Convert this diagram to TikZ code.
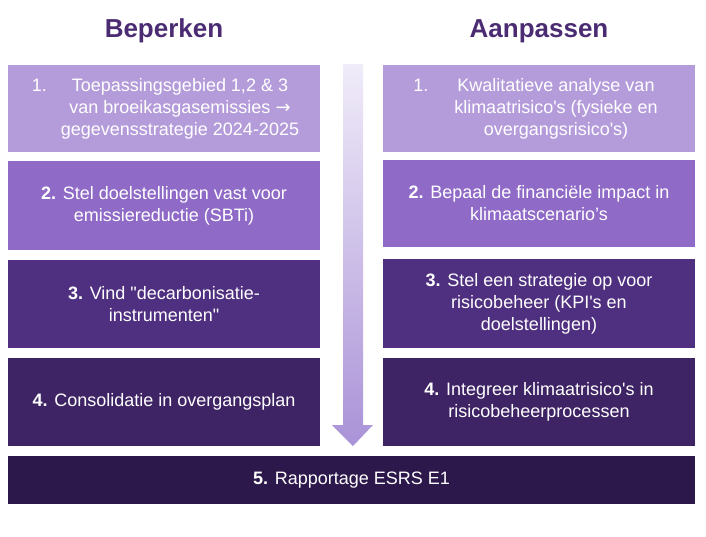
\documentclass[tikz,border=0pt]{standalone}
\usepackage{fontspec}
\setmainfont{Liberation Sans}
\newfontfamily\pijlfont{DejaVu Sans}
\usetikzlibrary{positioning}

\definecolor{kop}{RGB}{75,44,115}
\definecolor{lila1}{RGB}{180,156,218}
\definecolor{lila2}{RGB}{143,106,199}
\definecolor{lila3}{RGB}{79,47,127}
\definecolor{lila4}{RGB}{62,36,101}
\definecolor{lila5}{RGB}{44,24,74}
\definecolor{pijltop}{RGB}{240,236,249}
\definecolor{pijlbodem}{RGB}{170,146,215}

\begin{document}
\begin{tikzpicture}[x=1pt,y=-1pt,
    kopje/.style={text=kop,font=\fontsize{26}{30}\selectfont\bfseries,anchor=base},
    blok/.style={text=white,font=\fontsize{18}{22}\selectfont,align=center,
      inner sep=0pt,minimum width=312pt},
    tekst/.style={text=white,font=\fontsize{18}{22}\selectfont,align=center,inner sep=0pt}]
      \useasboundingbox (0,0) rectangle (706,536);

      % kopjes
      \node[kopje] (beperken) at (164,37) {Beperken};
      \node[kopje] (aanpassen) at (539,37) {Aanpassen};

      % pijl in het midden
      \shade[top color=pijltop,bottom color=pijlbodem]
        (343,64) -- (363,64) -- (363,425) -- (373,425) -- (353,446)
        -- (332,425) -- (343,425) -- cycle;

      % linkerkolom
      \node[blok,fill=lila1,minimum height=87pt] (l1) at (164,108.5) {};
      \node[tekst] (l1t) at (180,108.5) {\llap{1.\hspace{25pt}}Toepassingsgebied 1,2 \& 3\\
        van broeikasgasemissies {\pijlfont →}\\gegevensstrategie 2024-2025};
      \node[blok,fill=lila2,minimum height=89pt] (l2) at (164,205.5)
        {\textbf{2.} Stel doelstellingen vast voor\\emissiereductie (SBTi)};
      \node[blok,fill=lila3,minimum height=88pt] (l3) at (164,304)
        {\textbf{3.} Vind \textquotedbl decarbonisatie-\\instrumenten\textquotedbl};
      \node[blok,fill=lila4,minimum height=88pt] (l4) at (164,402)
        {\textbf{4.} Consolidatie in overgangsplan};

      % rechterkolom
      \node[blok,fill=lila1,minimum height=87pt] (r1) at (539,108.5) {};
      \node[tekst] (r1t) at (556,108.5) {\llap{1.\hspace{29pt}}Kwalitatieve analyse van\\
        klimaatrisico\textquotesingle s (fysieke en\\overgangsrisico\textquotesingle s)};
      \node[blok,fill=lila2,minimum height=87pt] (r2) at (539,203.5)
        {\textbf{2.} Bepaal de financiële impact in\\klimaatscenario’s};
      \node[blok,fill=lila3,minimum height=89pt] (r3) at (539,303.5)
        {\textbf{3.} Stel een strategie op voor\\risicobeheer (KPI\textquotesingle s en\\doelstellingen)};
      \node[blok,fill=lila4,minimum height=88pt] (r4) at (539,402)
        {\textbf{4.} Integreer klimaatrisico\textquotesingle s in\\risicobeheerprocessen};

      % onderste balk
      \node[blok,fill=lila5,minimum width=687pt,minimum height=48pt] (rapport) at (351.5,480)
        {\textbf{5.} Rapportage ESRS E1};
    \end{tikzpicture}
\end{document}
